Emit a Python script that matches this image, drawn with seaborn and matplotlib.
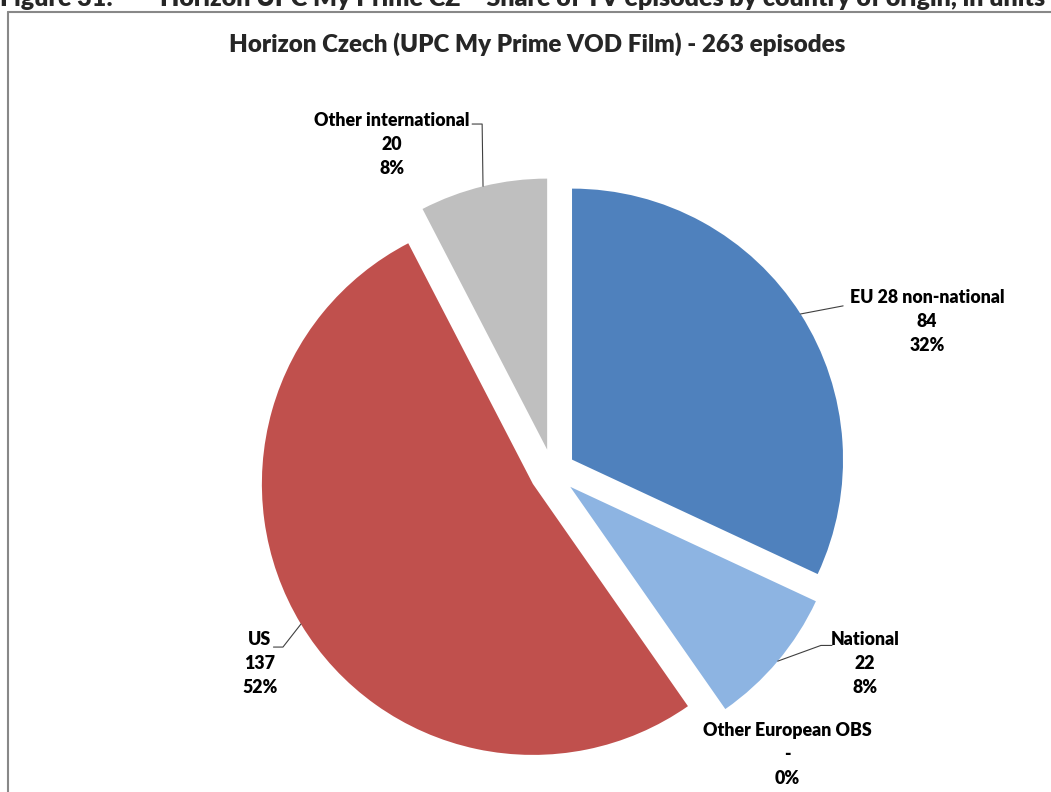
import numpy as np
import seaborn as sns
import pandas as pd
import matplotlib.pyplot as plt
from matplotlib.lines import Line2D

# data
categories = ['EU 28 non-national', 'National', 'Other European OBS', 'US', 'Other international']
episodes = [84, 22, 0, 137, 20]
colors = ['#4F81BD', '#8DB4E2', '#9BBB59', '#C0504D', '#BFBFBF']

# label centres / leader elbows (data units, pie radius = 1)
label_pos = [(1.381, 0.554), (1.153, -0.708), (0.865, -1.044), (-1.080, -0.705), (-0.593, 1.207)]
leader_pts = [[(1.072, 0.613)], [(0.99, -0.640), (1.031, -0.640)], None,
              [(-0.995, -0.646), (-1.03, -0.646)], [(-0.260, 1.284), (-0.297, 1.284)]]

df = pd.DataFrame({'category': categories, 'episodes': episodes})
total = df['episodes'].sum()

sns.set_theme(style='white')
plt.rcParams['font.family'] = ['Lato', 'DejaVu Sans']

W, H = 1051, 792
fig = plt.figure(figsize=(W / 100, H / 100), dpi=100)
fig.patch.set_facecolor('white')

# pie centre in pixels and pixels per unit radius
cx, cy, scale = 552.6, 472, 271
ax = fig.add_axes([0, 0, 1, 1])
explode = 0.085
wedges, _ = ax.pie(df['episodes'], colors=colors, startangle=90, counterclock=False,
                   explode=[explode] * len(df), radius=1,
                   wedgeprops=dict(linewidth=0))
ax.set_xlim(-cx / scale, (W - cx) / scale)
ax.set_ylim((cy - H) / scale, cy / scale)
ax.set_aspect('auto')
ax.axis('off')

# data labels with leader lines
for i, (w, row) in enumerate(zip(wedges, df.itertuples())):
    pct = round(100 * row.episodes / total)
    val = '-' if row.episodes == 0 else str(row.episodes)
    lx, ly = label_pos[i]
    ax.text(lx, ly, f'{row.category}\n{val}\n{pct}%', ha='center', va='center',
            fontsize=12.8, fontweight='heavy', linespacing=1.5, color='#000000')
    if leader_pts[i] is not None:
        mid = np.deg2rad((w.theta1 + w.theta2) / 2)
        ox, oy = explode * np.cos(mid), explode * np.sin(mid)
        ax_, ay_ = ox + np.cos(mid), oy + np.sin(mid)
        xs = [ax_] + [p[0] for p in leader_pts[i]]
        ys = [ay_] + [p[1] for p in leader_pts[i]]
        ax.plot(xs, ys, color='#404040', lw=0.8)

ax.text(537 / scale - cx / scale, (cy - 52) / scale,
        'Horizon Czech (UPC My Prime VOD Film) - 263 episodes',
        ha='center', va='baseline', fontsize=17.4, fontweight='heavy')

# chart border (partly cropped)
fig.add_artist(Line2D([8 / W, 8 / W], [0, 1 - 12 / H], color='#888888', lw=1.5))
fig.add_artist(Line2D([8 / W, 1], [1 - 12 / H, 1 - 12 / H], color='#888888', lw=1.5))

# cropped document caption above the chart
fig.text(0, 1 - 6.5 / H, 'Figure 31:', ha='left', va='baseline', fontsize=18, fontweight='heavy')
fig.text(160 / W, 1 - 6.5 / H,
         'Horizon UPC My Prime CZ \u2013 Share of TV episodes by country of origin, in units',
         ha='left', va='baseline', fontsize=18, fontweight='heavy')

plt.savefig('out.png', dpi=100)
